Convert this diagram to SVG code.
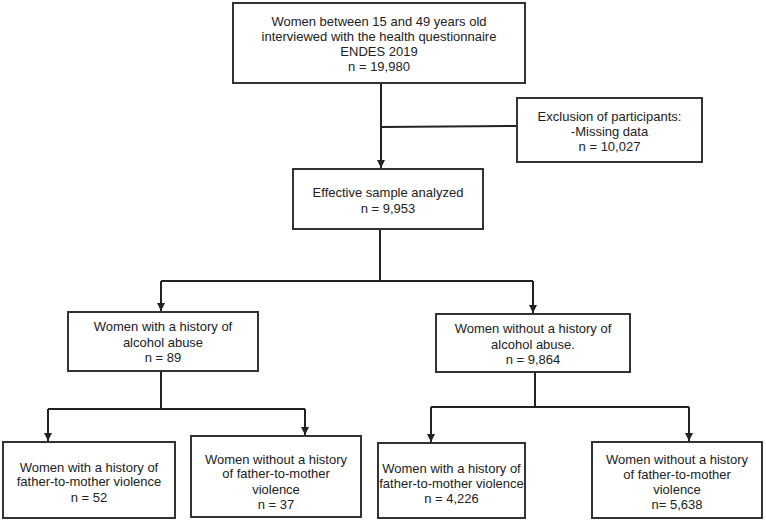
<svg xmlns="http://www.w3.org/2000/svg" width="766" height="523" viewBox="0 0 766 523">
<style>
.box{fill:#fff;stroke:#333;stroke-width:2}
.t{font-family:"Liberation Sans",Arial,sans-serif;font-size:13px;fill:#222;text-anchor:middle}
.c{fill:none;stroke:#222;stroke-width:2}
</style>
<defs>
<marker id="ah" markerWidth="10" markerHeight="10" refX="9" refY="5" orient="auto" markerUnits="userSpaceOnUse">
<path d="M1,1 L9,5 L1,9 Z" fill="#222"/>
</marker>
</defs>
<rect width="766" height="523" fill="#fff"/>
<g id="connectors">
<path class="c" d="M381,83 V168" marker-end="url(#ah)"/>
<path class="c" d="M381,127 L517,126"/>
<path class="c" d="M380,229 V281"/>
<path class="c" d="M161,281 H533"/>
<path class="c" d="M161,281 V311" marker-end="url(#ah)"/>
<path class="c" d="M533,281 V313" marker-end="url(#ah)"/>
<path class="c" d="M161,371 V409"/>
<path class="c" d="M48,409 H305"/>
<path class="c" d="M48,409 V441" marker-end="url(#ah)"/>
<path class="c" d="M305,409 V435" marker-end="url(#ah)"/>
<path class="c" d="M535,372 V407"/>
<path class="c" d="M431,407 H689"/>
<path class="c" d="M431,407 V442" marker-end="url(#ah)"/>
<path class="c" d="M689,407 V441" marker-end="url(#ah)"/>
</g>
<g id="n-total">
<rect class="box" x="233" y="3" width="292" height="80"/>
<text class="t" x="379" y="25.5">Women between 15 and 49 years old</text>
<text class="t" x="379" y="40.5">interviewed with the health questionnaire</text>
<text class="t" x="379" y="55.5">ENDES 2019</text>
<text class="t" x="379" y="70.5">n = 19,980</text>
</g>
<g id="n-exclusion">
<rect class="box" x="517" y="98" width="185" height="64"/>
<text class="t" x="609.5" y="120.5">Exclusion of participants:</text>
<text class="t" x="609.5" y="135.5">-Missing data</text>
<text class="t" x="609.5" y="150.5">n = 10,027</text>
</g>
<g id="n-effective">
<rect class="box" x="293" y="169" width="190" height="60"/>
<text class="t" x="388" y="196.5">Effective sample analyzed</text>
<text class="t" x="388" y="212.5">n = 9,953</text>
</g>
<g id="n-alcohol">
<rect class="box" x="68" y="312" width="190" height="59"/>
<text class="t" x="163" y="330.5">Women with a history of</text>
<text class="t" x="163" y="346.5">alcohol abuse</text>
<text class="t" x="163" y="361.5">n = 89</text>
</g>
<g id="n-noalcohol">
<rect class="box" x="436" y="314" width="194" height="58"/>
<text class="t" x="533" y="332.5">Women without a history of</text>
<text class="t" x="533" y="348.5">alcohol abuse.</text>
<text class="t" x="533" y="363.5">n = 9,864</text>
</g>
<g id="n-a-violence">
<rect class="box" x="3" y="442" width="172" height="76"/>
<text class="t" x="89" y="471.5">Women with a history of</text>
<text class="t" x="89" y="485.5">father-to-mother violence</text>
<text class="t" x="89" y="501.5">n = 52</text>
</g>
<g id="n-a-noviolence">
<rect class="box" x="191" y="436" width="170" height="81"/>
<text class="t" x="276" y="463.5">Women without a history</text>
<text class="t" x="276" y="477.5">of father-to-mother</text>
<text class="t" x="276" y="493.5">violence</text>
<text class="t" x="276" y="508.5">n = 37</text>
</g>
<g id="n-b-violence">
<rect class="box" x="378" y="443" width="147" height="75"/>
<text class="t" x="451.5" y="472.5">Women with a history of</text>
<text class="t" x="451.5" y="487.5">father-to-mother violence</text>
<text class="t" x="451.5" y="502.5">n = 4,226</text>
</g>
<g id="n-b-noviolence">
<rect class="box" x="592" y="442" width="170" height="76"/>
<text class="t" x="677" y="463.5">Women without a history</text>
<text class="t" x="677" y="478.5">of father-to-mother</text>
<text class="t" x="677" y="493.5">violence</text>
<text class="t" x="677" y="508.5">n= 5,638</text>
</g>
</svg>
